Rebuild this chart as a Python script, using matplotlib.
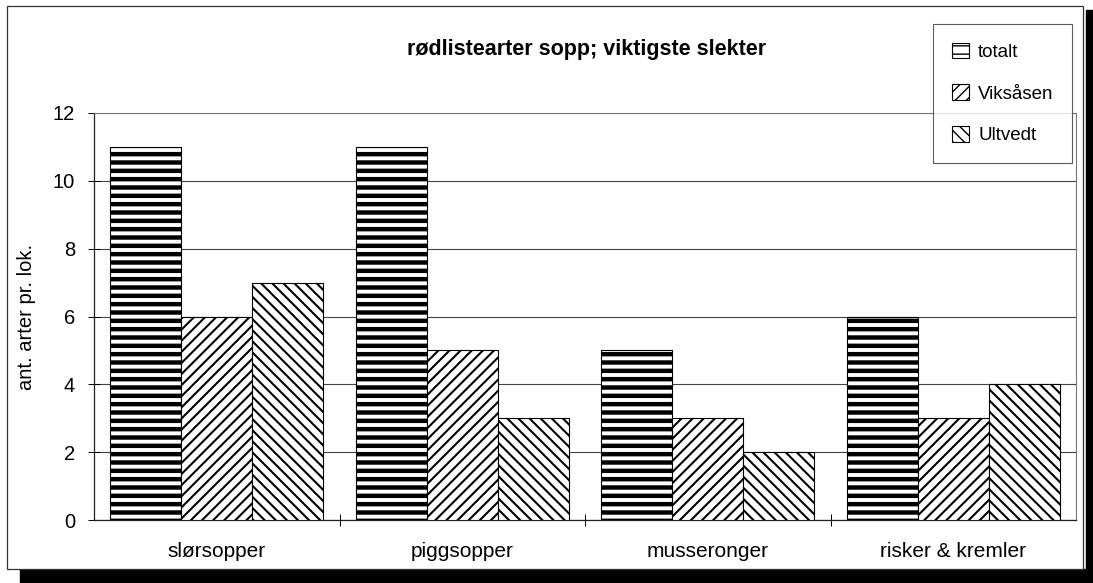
import numpy as np
import matplotlib.pyplot as plt
from matplotlib.patches import Rectangle, Patch

plt.rcParams['font.family'] = ['Liberation Sans', 'DejaVu Sans']

categories = ['slørsopper', 'piggsopper', 'musseronger', 'risker & kremler']
series = ['totalt', 'Viksåsen', 'Ultvedt']
totalt = [11, 11, 5, 6]
viksasen = [6, 5, 3, 3]
ultvedt = [7, 3, 2, 4]
yticks = [0, 2, 4, 6, 8, 10, 12]

hatches = ['--', '///', '\\\\\\']
hatch_lw = [3.2, 1.5, 1.5]

W, H = 1093, 583
fig = plt.figure(figsize=(W / 100, H / 100), dpi=100)

# chart frame + drop shadow (pixel coords -> figure fraction)
def px(x0, y0, x1, y1):
    return (x0 / W, 1 - y1 / H), (x1 - x0) / W, (y1 - y0) / H

xy, w, h = px(20, 569, W, H)
fig.patches.append(Rectangle(xy, w, h, transform=fig.transFigure, color='black', zorder=-3))
xy, w, h = px(1086, 10, W, H)
fig.patches.append(Rectangle(xy, w, h, transform=fig.transFigure, color='black', zorder=-3))
xy, w, h = px(7, 6, 1083, 569)
fig.patches.append(Rectangle(xy, w, h, transform=fig.transFigure, facecolor='white',
                             edgecolor='#333333', linewidth=0.9, zorder=-2))

ax = fig.add_axes([94 / W, 63 / H, 982 / W, 407 / H])
ax.set_facecolor('none')

x = np.arange(len(categories))
bw = 0.289
data = [totalt, viksasen, ultvedt]
for i, vals in enumerate(data):
    bars = ax.bar(x + (i - 1) * bw, vals, bw, facecolor='white', edgecolor='black',
                  linewidth=0.8, hatch=hatches[i], zorder=3)
    for b in bars:
        if hasattr(b, 'set_hatch_linewidth'):
            b.set_hatch_linewidth(hatch_lw[i])

ax.set_xlim(-0.5, len(categories) - 0.5)
ax.set_ylim(0, 12)
ax.set_yticks(yticks)
ax.yaxis.grid(True, color='#444444', linewidth=0.8, zorder=0)
ax.set_axisbelow(True)

ax.set_xticks(x)
ax.set_xticklabels(categories, fontsize=15)
ax.tick_params(axis='x', which='major', length=0, pad=16)
ax.set_xticks(np.arange(0.5, len(categories) - 0.5, 1), minor=True)
ax.tick_params(axis='x', which='minor', length=8, direction='inout', width=0.7)
ax.tick_params(axis='y', length=9, direction='inout', width=0.7, pad=9, labelsize=14.5)

for s in ['left', 'bottom']:
    ax.spines[s].set_color('#222222')
    ax.spines[s].set_linewidth(0.9)
for s in ['top', 'right']:
    ax.spines[s].set_color('#777777')
    ax.spines[s].set_linewidth(0.8)

ax.set_ylabel('ant. arter pr. lok.', fontsize=14.5, labelpad=12)

fig.text(587 / W, 1 - 50 / H, 'rødlistearter sopp; viktigste slekter', ha='center', va='center',
         fontsize=15.5, fontweight='bold')

handles = []
for i, s in enumerate(series):
    p = Patch(facecolor='white', edgecolor='black', linewidth=0.8, hatch=hatches[i], label=s)
    if hasattr(p, 'set_hatch_linewidth'):
        p.set_hatch_linewidth(hatch_lw[i])
    handles.append(p)
leg = fig.legend(handles=handles, loc='upper left', bbox_to_anchor=(933 / W, 1 - 24 / H),
                 fontsize=13.5, frameon=True, fancybox=False, edgecolor='#333333',
                 handlelength=0.9, handleheight=0.9, handletextpad=0.5,
                 labelspacing=1.25, borderpad=1.0, borderaxespad=0)
leg.get_frame().set_linewidth(0.8)

plt.savefig('out.png', dpi=100)
